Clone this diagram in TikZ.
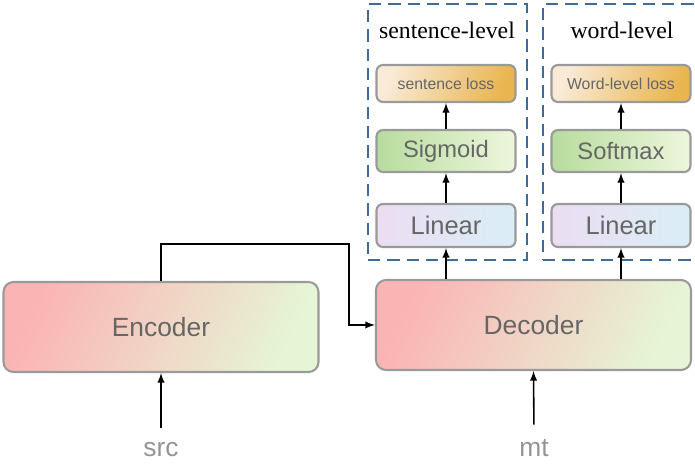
\documentclass[tikz,border=0pt]{standalone}
\usepackage{fontspec}
\setmainfont{Liberation Serif}
\newfontfamily\boxfont{Liberation Sans}
\usetikzlibrary{positioning}

\definecolor{boxline}{HTML}{9A9A9A}
\definecolor{boxtext}{HTML}{666666}
\definecolor{dashblue}{HTML}{3E6B98}
\definecolor{encpink}{HTML}{FBB4B4}
\definecolor{encmid}{HTML}{F6E2C8}
\definecolor{encgreen}{HTML}{E6F5D6}
\definecolor{losslight}{HTML}{F9EBD8}
\definecolor{lossorange}{HTML}{E9B54F}
\definecolor{sigdark}{HTML}{B7DC9E}
\definecolor{siglight}{HTML}{EEF6DC}
\definecolor{linlav}{HTML}{ECDDF2}
\definecolor{linblue}{HTML}{D9EEF6}

\tikzset{
  coder/.style={draw=boxline, line width=1.2pt, rounded corners=0.2cm,
    minimum width=6.3cm, minimum height=1.8cm,
    left color=encpink, middle color=encmid, right color=encgreen, shading angle=65,
    text=boxtext, font=\boxfont\fontsize{15}{18}\selectfont},
  layer/.style={draw=boxline, line width=1.2pt, rounded corners=0.13cm,
    minimum width=2.78cm, text=boxtext},
  losbox/.style={layer, minimum height=0.74cm, left color=losslight, right color=lossorange,
    shading angle=70, font=\boxfont\fontsize{9}{11}\selectfont},
  actbox/.style={layer, minimum height=0.84cm, left color=sigdark, right color=siglight,
    font=\boxfont\fontsize{13.5}{16}\selectfont},
  linbox/.style={layer, minimum height=0.86cm, left color=linlav, right color=linblue,
    font=\boxfont\fontsize{14.5}{17}\selectfont},
  group/.style={draw=dashblue, line width=1.1pt, dash pattern=on 7pt off 4pt},
  title/.style={font=\fontsize{13.5}{16}\selectfont},
  inlabel/.style={anchor=base, text=boxtext!70, font=\boxfont\fontsize{15}{18}\selectfont},
  arr/.style={-latex, line width=0.9pt}
}

\begin{document}
\begin{tikzpicture}
	\useasboundingbox (0,0) rectangle (13.9,9.36);

	% encoder / decoder
	\node[coder] (enc) at (3.22,2.82) {Encoder};
	\node[coder] (dec) at (10.67,2.86) {Decoder};

	\node[inlabel] (src) at (3.22,0.22) {src};
	\node[inlabel] (mt) at (10.68,0.22) {mt};

	% dashed groups
	\node[group, minimum width=3.18cm, minimum height=5.12cm] (sgroup) at (8.95,6.72) {};
	\node[group, minimum width=3.2cm, minimum height=5.12cm] (wgroup) at (12.46,6.72) {};
	\node[title] (stitle) at (8.94,8.76) {sentence-level};
	\node[title] (wtitle) at (12.44,8.76) {word-level};

	% sentence-level head
	\node[linbox] (slin) at (8.92,4.85) {Linear};
	\node[actbox] (ssig) at (8.92,6.34) {Sigmoid};
	\node[losbox] (sloss) at (8.92,7.69) {sentence loss};

	% word-level head
	\node[linbox] (wlin) at (12.42,4.85) {Linear};
	\node[actbox] (wsoft) at (12.42,6.34) {Softmax};
	\node[losbox] (wloss) at (12.42,7.69) {Word-level loss};

	\coordinate (bend) at (6.98,4.48);

	\draw[arr, shorten <=0.18cm] (src.north) -- (enc.south);
	\draw[arr, shorten <=0.18cm] (mt.north) -- (dec.south);
	\draw[arr] (enc.north) |- (bend) |- (dec.west);

	\draw[arr] (dec.north -| slin) -- (slin.south);
	\draw[arr] (slin) -- (ssig);
	\draw[arr] (ssig) -- (sloss);

	\draw[arr] (dec.north -| wlin) -- (wlin.south);
	\draw[arr] (wlin) -- (wsoft);
	\draw[arr] (wsoft) -- (wloss);

\end{tikzpicture}
\end{document}
